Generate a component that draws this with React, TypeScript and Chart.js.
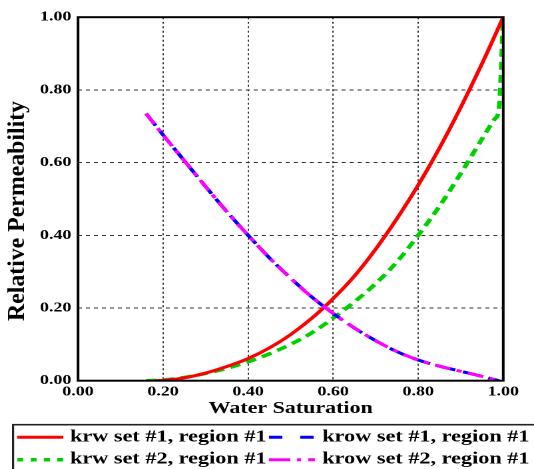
import { useEffect, useRef } from "react";
import { Chart, registerables } from "chart.js";

Chart.register(...registerables);

// The figure is laid out on a narrower canvas and widened horizontally,
// which gives the broad bold lettering and the long horizontal dashes.
const INNER_W = 401;
const HEIGHT = 469;
const STRETCH = 534 / INNER_W;

const SERIF = "'Liberation Serif', 'Times New Roman', serif";

const xTitle = "Water Saturation";
const yTitle = "Relative Permeability";
const seriesNames = [
  "krw set #1, region #1",
  "krow set #1, region #1",
  "krw set #2, region #1",
  "krow set #2, region #1",
];

// krw, set #1
const swKrw1 = [0.18, 0.2, 0.25, 0.3, 0.35, 0.4, 0.45, 0.5, 0.55, 0.6, 0.65, 0.7, 0.75, 0.8, 0.85, 0.9, 0.95, 1.0];
const krw1 = [0.0, 0.001, 0.008, 0.021, 0.039, 0.061, 0.09, 0.127, 0.172, 0.226, 0.288, 0.362, 0.446, 0.538, 0.64, 0.752, 0.872, 1.0];

// krw, set #2
const swKrw2 = [0.16, 0.2, 0.25, 0.3, 0.35, 0.4, 0.45, 0.5, 0.55, 0.6, 0.65, 0.7, 0.75, 0.8, 0.85, 0.9, 0.95, 0.98, 0.99, 1.0];
const krw2 = [0.0, 0.002, 0.009, 0.02, 0.034, 0.052, 0.074, 0.1, 0.132, 0.172, 0.217, 0.267, 0.327, 0.4, 0.48, 0.57, 0.665, 0.72, 0.75, 1.0];

// krow, sets #1 and #2
const swKrow1 = [0.16, 0.2, 0.25, 0.3, 0.35, 0.4, 0.45, 0.5, 0.55, 0.6, 0.65, 0.7, 0.75, 0.8, 0.85, 0.9, 0.95, 0.99];
const krow1 = [0.735, 0.676, 0.605, 0.534, 0.465, 0.4, 0.338, 0.282, 0.23, 0.185, 0.145, 0.11, 0.08, 0.057, 0.04, 0.026, 0.012, 0.0];
const swKrow2 = [0.16, 0.2, 0.25, 0.3, 0.35, 0.4, 0.45, 0.5, 0.55, 0.6, 0.65, 0.7, 0.75, 0.8, 0.85, 0.9, 0.95, 0.99];
const krow2 = [0.735, 0.676, 0.605, 0.534, 0.465, 0.4, 0.338, 0.282, 0.23, 0.185, 0.145, 0.11, 0.08, 0.057, 0.04, 0.026, 0.012, 0.0];

const pairs = (xs: number[], ys: number[]) => xs.map((x, i) => ({ x, y: ys[i] }));

const RED = "#ff0000";
const BLUE = "#0000ff";
const GREEN = "#00d000";
const MAGENTA = "#ff00ff";

// Legend entries: colour, sample dash, row, column
const legendItems = [
  { label: seriesNames[0], color: RED, dash: [] as number[], width: 3, row: 0, col: 0 },
  { label: seriesNames[1], color: BLUE, dash: [10, 13.5], width: 3, row: 0, col: 1 },
  { label: seriesNames[2], color: GREEN, dash: [4.5, 5.5], width: 3.5, row: 1, col: 0 },
  { label: seriesNames[3], color: MAGENTA, dash: [16, 5, 3, 5.5], width: 3, row: 1, col: 1 },
];

const frameBox = {
  id: "frameBox",
  afterDatasetsDraw(chart: Chart) {
    const { ctx, chartArea } = chart;
    ctx.save();
    ctx.strokeStyle = "#000";
    ctx.lineWidth = 2;
    ctx.setLineDash([]);
    ctx.strokeRect(chartArea.left, chartArea.top, chartArea.right - chartArea.left, chartArea.bottom - chartArea.top);
    ctx.restore();
  },
};

const yAxisTitle = {
  id: "yAxisTitle",
  afterDraw(chart: Chart) {
    const { ctx } = chart;
    ctx.save();
    // draw in unwidened units so the rotated title keeps normal proportions
    ctx.scale(1 / STRETCH, 1);
    ctx.translate(17.5, 211);
    ctx.rotate(-Math.PI / 2);
    ctx.font = `bold 23.8px ${SERIF}`;
    ctx.fillStyle = "#000";
    ctx.textAlign = "center";
    ctx.textBaseline = "middle";
    ctx.fillText(yTitle, 0, 0);
    ctx.restore();
  },
};

const boxedLegend = {
  id: "boxedLegend",
  afterDraw(chart: Chart) {
    const { ctx } = chart;
    ctx.save();
    ctx.strokeStyle = "#222";
    ctx.lineWidth = 1.6;
    ctx.setLineDash([]);
    ctx.strokeRect(9.8, 424.7, 500, 100);

    const sampleX = [13.0, 202.0];
    const textX = [52.6, 242.0];
    const lineY = [437.3, 459.7];
    const baseY = [441.5, 463.5];
    ctx.font = `bold 16.7px ${SERIF}`;
    ctx.textAlign = "left";
    ctx.textBaseline = "alphabetic";
    for (const it of legendItems) {
      ctx.strokeStyle = it.color;
      ctx.lineWidth = it.width;
      ctx.setLineDash(it.dash);
      ctx.beginPath();
      ctx.moveTo(sampleX[it.col], lineY[it.row]);
      ctx.lineTo(sampleX[it.col] + 34.5, lineY[it.row]);
      ctx.stroke();
      ctx.fillStyle = "#000";
      ctx.fillText(it.label, textX[it.col], baseY[it.row]);
    }
    ctx.restore();
  },
};

export default function App() {
  const ref = useRef<HTMLCanvasElement>(null);

  useEffect(() => {
    document.body.style.margin = "0";
    const canvas = ref.current;
    if (!canvas) return;

    const tickFont = { family: SERIF, size: 13.5, weight: "bold" as const };
    const fmt = (v: number | string) => Number(v).toFixed(2);

    const chart = new Chart(canvas, {
      type: "scatter",
      data: {
        datasets: [
          {
            label: seriesNames[3],
            data: pairs(swKrow2, krow2),
            borderColor: MAGENTA,
            borderWidth: 3,
            borderDash: [12, 5, 4, 5],
            order: 0,
          },
          {
            label: seriesNames[1],
            data: pairs(swKrow1, krow1),
            borderColor: BLUE,
            borderWidth: 3,
            borderDash: [14, 6],
            order: 1,
          },
          {
            label: seriesNames[0],
            data: pairs(swKrw1, krw1),
            borderColor: RED,
            borderWidth: 3,
            order: 2,
          },
          {
            label: seriesNames[2],
            data: pairs(swKrw2, krw2),
            borderColor: GREEN,
            borderWidth: 3.5,
            borderDash: [8, 5],
            order: 3,
          },
        ].map((d) => ({
          ...d,
          showLine: true,
          pointRadius: 0,
          pointHoverRadius: 0,
          fill: false,
          cubicInterpolationMode: "monotone" as const,
        })),
      },
      options: {
        animation: false,
        responsive: true,
        maintainAspectRatio: false,
        devicePixelRatio: 2,
        layout: { padding: { left: 0, right: 23.1, top: 17.2, bottom: 48.3 } },
        plugins: { legend: { display: false }, tooltip: { enabled: false } },
        scales: {
          x: {
            type: "linear",
            min: 0,
            max: 1,
            afterFit: (s: any) => {
              s.height = 40;
            },
            ticks: {
              stepSize: 0.2,
              callback: fmt,
              font: tickFont,
              color: "#000",
              padding: 3,
              maxRotation: 0,
              autoSkip: false,
            },
            grid: { color: "#333", lineWidth: 1, drawTicks: false },
            border: { display: false, dash: [2, 2.5] },
            title: {
              display: true,
              text: xTitle,
              color: "#000",
              font: { family: SERIF, size: 16.5, weight: "bold" },
              padding: { top: 0, bottom: 2 },
            },
          },
          y: {
            type: "linear",
            min: 0,
            max: 1,
            afterFit: (s: any) => {
              s.width = 58.6;
            },
            ticks: {
              stepSize: 0.2,
              callback: fmt,
              font: tickFont,
              color: "#000",
              padding: 5,
            },
            grid: { color: "#333", lineWidth: 1, drawTicks: false },
            border: { display: false, dash: [3, 3] },
          },
        },
      },
      plugins: [frameBox, yAxisTitle, boxedLegend],
    });

    return () => chart.destroy();
  }, []);

  return (
    <div
      style={{
        position: "relative",
        width: INNER_W,
        height: HEIGHT,
        transform: `scaleX(${STRETCH})`,
        transformOrigin: "0 0",
      }}
    >
      <canvas ref={ref} />
    </div>
  );
}
